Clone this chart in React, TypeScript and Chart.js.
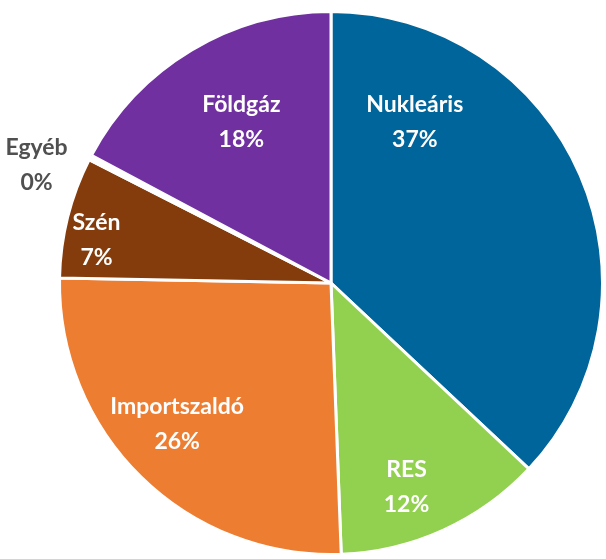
import React, { useEffect, useRef } from "react";
import { Chart, registerables } from "chart.js";

Chart.register(...registerables);

const categories = ["Nukleáris", "RES", "Importszaldó", "Szén", "Egyéb", "Földgáz"];
const values = [37.0, 12.4, 25.9, 7.2, 0.3, 17.2];
const percentLabels = ["37%", "12%", "26%", "7%", "0%", "18%"];
const colors = ["#00659A", "#92D050", "#ED7D31", "#843C0C", "#FFFFFF", "#7030A0"];
const labelColors = ["#FFFFFF", "#FFFFFF", "#FFFFFF", "#FFFFFF", "#505050", "#FFFFFF"];
// label placement: angle from top (degrees, clockwise) and distance as fraction of radius
const labelAngles = [27, 159.4, 228.2, 281.1, 292.3, 331.4];
const labelRadii = [0.68, 0.79, 0.76, 0.88, 1.18, 0.69];

const labelPlugin = {
  id: "sliceLabels",
  afterDatasetsDraw(chart: any) {
    const meta = chart.getDatasetMeta(0);
    const arc = meta.data[0];
    if (!arc) return;
    const cx = arc.x;
    const cy = arc.y;
    const R = arc.outerRadius;
    const ctx = chart.ctx;
    ctx.save();
    ctx.font = "bold 23px Lato, 'Open Sans', sans-serif";
    ctx.textAlign = "center";
    ctx.textBaseline = "middle";
    categories.forEach((c, i) => {
      const a = (labelAngles[i] * Math.PI) / 180;
      const r = labelRadii[i] * R;
      const x = cx + Math.sin(a) * r + (i === 4 ? 2 : 0);
      const y = cy - Math.cos(a) * r;
      ctx.fillStyle = labelColors[i];
      ctx.fillText(c, x, y - 14);
      ctx.fillText(percentLabels[i], x, y + 21);
    });
    ctx.restore();
  },
};

export default function App() {
  const ref = useRef<HTMLCanvasElement>(null);
  useEffect(() => {
    document.body.style.margin = "0";
    const chart = new Chart(ref.current!, {
      type: "pie",
      data: {
        labels: categories,
        datasets: [
          {
            data: values,
            backgroundColor: colors,
            borderColor: "#FFFFFF",
            borderWidth: 3,
          },
        ],
      },
      options: {
        responsive: false,
        animation: false,
        layout: { padding: { left: 58, right: 2, top: 10, bottom: 3 } },
        plugins: {
          legend: { display: false },
          tooltip: { enabled: false },
        },
      },
      plugins: [labelPlugin],
    });
    return () => chart.destroy();
  }, []);
  return (
    <div style={{ width: 606, height: 559 }}>
      <canvas ref={ref} width={606} height={559} />
    </div>
  );
}
